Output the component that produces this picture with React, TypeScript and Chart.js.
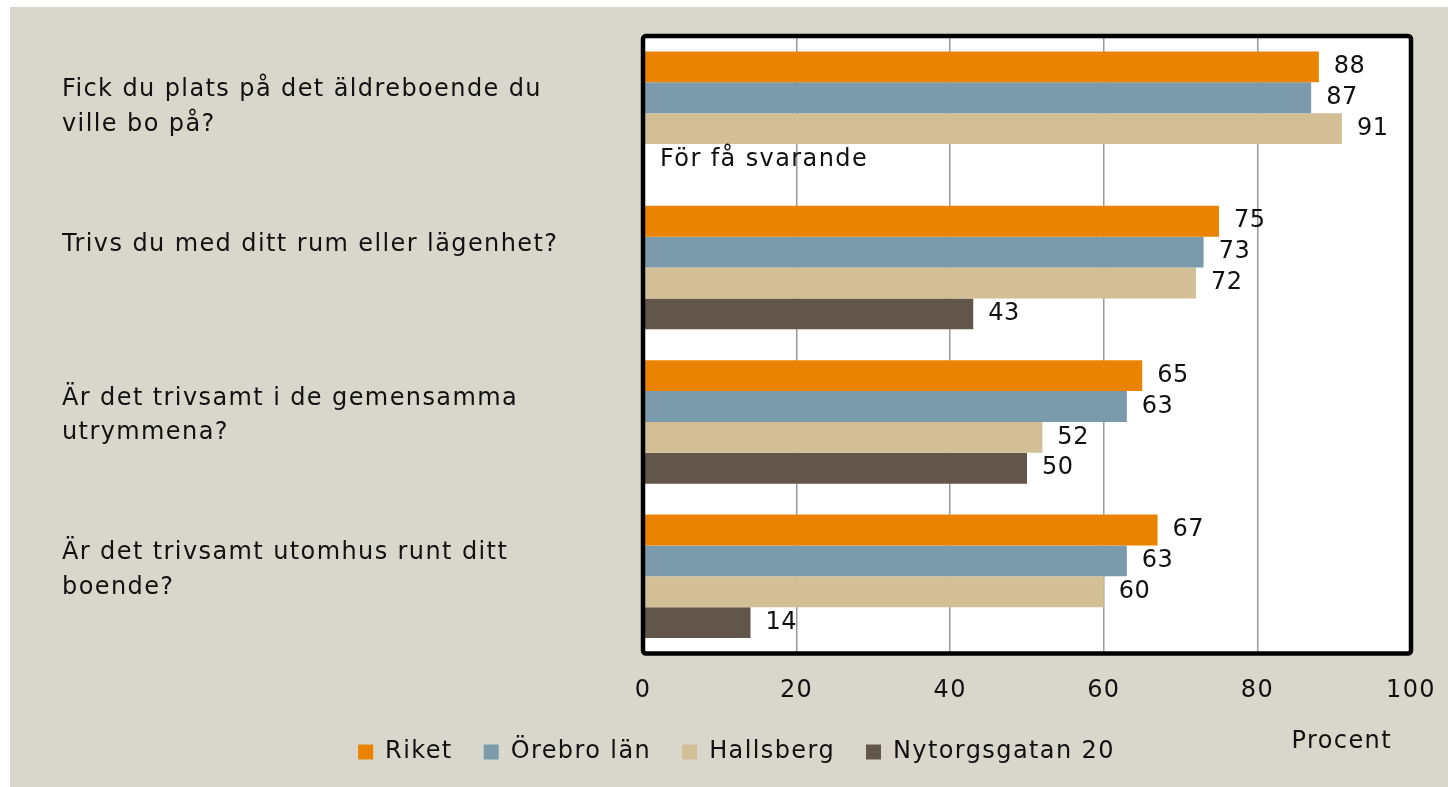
import React, { useEffect, useRef } from "react";
import { Chart, registerables } from "chart.js";

Chart.register(...registerables);

const categories: string[][] = [
  ["Fick du plats på det äldreboende du", "ville bo på?"],
  ["Trivs du med ditt rum eller lägenhet?", ""],
  ["Är det trivsamt i de gemensamma", "utrymmena?"],
  ["Är det trivsamt utomhus runt ditt", "boende?"],
];
const seriesNames = ["Riket", "Örebro län", "Hallsberg", "Nytorgsgatan 20"];
const riket = [88, 75, 65, 67];
const orebroLan = [87, 73, 63, 63];
const hallsberg = [91, 72, 52, 60];
const nytorgsgatan20: (number | null)[] = [null, 43, 50, 14];
const xTicks = [0, 20, 40, 60, 80, 100];
const noDataText = "För få svarande";
const axisTitle = "Procent";

const COLORS = ["#ea8400", "#7b9aab", "#d3bf95", "#62554a"];
const FONT = "'DejaVu Sans', sans-serif";
const TEXT = "#111111";
const SPACING = "1.4px";

const framePlugin = {
  id: "frame",
  beforeUpdate(chart: any) {
    chart.ctx.letterSpacing = SPACING;
  },
  beforeDraw(chart: any) {
    const { ctx, chartArea: a } = chart;
    ctx.letterSpacing = SPACING;
    ctx.save();
    ctx.fillStyle = "#ffffff";
    ctx.fillRect(a.left, a.top, a.right - a.left, a.bottom - a.top);
    ctx.restore();
  },
  afterDatasetsDraw(chart: any) {
    const { ctx, chartArea: a } = chart;
    ctx.save();
    ctx.font = `24px ${FONT}`;
    ctx.fillStyle = TEXT;
    ctx.textBaseline = "middle";
    ctx.textAlign = "left";
    chart.data.datasets.forEach((ds: any, di: number) => {
      const meta = chart.getDatasetMeta(di);
      meta.data.forEach((el: any, i: number) => {
        const v = ds.data[i];
        if (v === null || v === undefined) {
          const y = el && isFinite(el.y) ? el.y : chart.scales.y.getPixelForValue(i);
          ctx.letterSpacing = SPACING;
          ctx.fillText(noDataText, a.left + 17, y);
        } else {
          ctx.letterSpacing = "0.5px";
          ctx.fillText(String(v), el.x + 15, el.y);
        }
      });
    });
    ctx.restore();
  },
  afterDraw(chart: any) {
    const { ctx, chartArea: a } = chart;
    ctx.save();
    ctx.lineWidth = 4.5;
    ctx.strokeStyle = "#000000";
    ctx.beginPath();
    (ctx as any).roundRect(a.left, a.top, a.right - a.left, a.bottom - a.top, 3);
    ctx.stroke();
    ctx.font = `24px ${FONT}`;
    ctx.letterSpacing = SPACING;
    ctx.fillStyle = TEXT;
    ctx.textAlign = "right";
    ctx.textBaseline = "middle";
    ctx.fillText(axisTitle, a.right - 19, a.bottom + 88);
    ctx.restore();
  },
};

export default function App() {
  const ref = useRef<HTMLCanvasElement | null>(null);

  useEffect(() => {
    if (!ref.current) return;
    const series = [riket, orebroLan, hallsberg, nytorgsgatan20];
    const chart = new Chart(ref.current, {
      type: "bar",
      data: {
        labels: categories,
        datasets: series.map((d, i) => ({
          label: seriesNames[i],
          data: d,
          backgroundColor: COLORS[i],
          borderWidth: 0,
          categoryPercentage: 0.8,
          barPercentage: 1.0,
        })),
      },
      options: {
        indexAxis: "y",
        responsive: false,
        animation: false,
        events: [],
        layout: { padding: { left: 52, top: 29, right: 37, bottom: 13 } },
        scales: {
          x: {
            type: "linear",
            min: 0,
            max: 100,
            afterBuildTicks: (s: any) => {
              s.ticks = xTicks.map((v) => ({ value: v }));
            },
            afterFit: (s: any) => {
              s.height = 55.5;
              s.paddingLeft = 0;
              s.paddingRight = 0;
              s.paddingTop = 0;
              s.paddingBottom = 0;
            },
            grid: { color: "#9a9a9a", lineWidth: 1.5, drawTicks: false },
            border: { display: false },
            ticks: {
              padding: 23,
              color: TEXT,
              font: { family: FONT, size: 24 },
            },
          },
          y: {
            grid: { display: false, drawTicks: false },
            border: { display: false },
            afterFit: (s: any) => {
              s.width = 581;
              s.paddingLeft = 0;
              s.paddingRight = 0;
              s.paddingTop = 0;
              s.paddingBottom = 0;
            },
            ticks: {
              crossAlign: "far",
              labelOffset: -6,
              color: TEXT,
              font: { family: FONT, size: 24, lineHeight: 1.44 },
            },
          },
        },
        plugins: {
          legend: {
            position: "bottom",
            labels: {
              boxWidth: 15,
              boxHeight: 15,
              padding: 31,
              color: TEXT,
              font: { family: FONT, size: 24 },
            },
          },
          tooltip: { enabled: false },
        },
      },
      plugins: [framePlugin],
    } as any);
    return () => chart.destroy();
  }, []);

  return (
    <div
      style={{
        position: "fixed",
        left: 10,
        top: 7,
        width: 1438,
        height: 780,
        background: "#d9d7cb",
      }}
    >
      <canvas ref={ref} width={1438} height={780} style={{ display: "block" }} />
    </div>
  );
}
